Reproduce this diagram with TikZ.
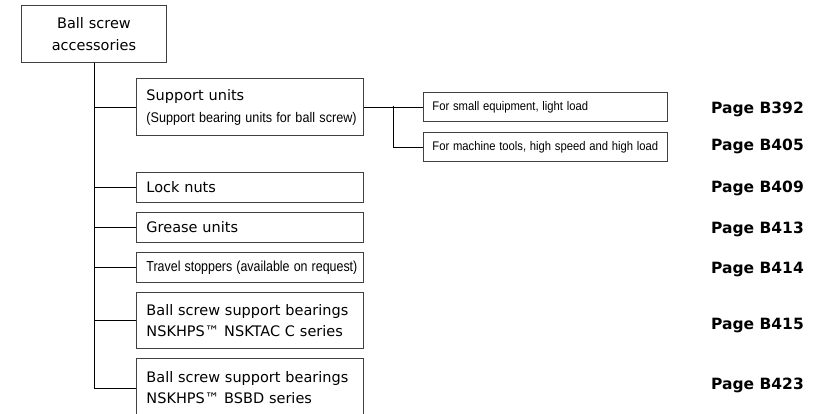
\documentclass[tikz,border=0pt]{standalone}
\usepackage{graphicx}
\usepackage{fontspec}
\setmainfont{DejaVu Sans}
\newfontfamily\narrowface{Liberation Sans}
\newcommand\squeeze[2]{\scalebox{#1}[1]{#2}}
\tikzset{
  box/.style={draw=black!75,line width=0.9pt,anchor=north west,align=left,
    inner xsep=10pt,inner ysep=0pt,text width=207pt,font=\fontsize{14.5}{21}\selectfont},
  subbox/.style={box,inner xsep=9pt,text width=226pt,minimum height=29pt,
    font=\narrowface\fontsize{12.5}{14}\selectfont},
  pagelabel/.style={anchor=base west,inner sep=0pt,
    font=\bfseries\fontsize{15.5}{18}\selectfont},
  link/.style={line width=0.8pt},
}
\begin{document}
\begin{tikzpicture}[x=1pt,y=-1pt]
\path[use as bounding box,fill=white] (0,0) rectangle (818,414);
\clip (0,0) rectangle (818,414);
\node[box,align=center,text width=125pt,minimum height=57pt,font=\fontsize{14.5}{22}\selectfont] (top) at (21,5) {Ball screw\\accessories};
\node[box,minimum height=57pt,font=\fontsize{14.5}{22}\selectfont] (support) at (136,78)
    {Support units\\{\narrowface\fontsize{14}{16}\selectfont\squeeze{0.9}{(Support bearing units for ball screw)}}};
\foreach \name/\y/\txt in {locknut/172/Lock nuts, grease/212/Grease units}
{
    \node[box,minimum height=30pt] (\name) at (136,\y) {\txt};
}
\node[box,minimum height=30pt,font=\narrowface\fontsize{14.5}{16}\selectfont] (stopper) at (136,252)
    {\squeeze{0.857}{Travel stoppers (available on request)}};
\node[box,minimum height=56pt] (tac) at (136,292)
    {Ball screw support bearings\\NSKHPS™ NSKTAC C series};
\node[box,minimum height=59pt] (bsbd) at (136,358)
    {Ball screw support bearings\\NSKHPS™ BSBD series};
\foreach \name in {support,locknut,grease,stopper,tac,bsbd}
{
    \draw[link] (top.south) |- (\name.west);
}
\node[subbox] (small) at (423,92) {\squeeze{0.9}{For small equipment, light load}};
\node[subbox] (machine) at (423,132) {\squeeze{0.9}{For machine tools, high speed and high load}};
\coordinate (fork) at (393,106.5);
\draw[link] (support.east)--(small.west);
\draw[link] (fork) |- (machine.west);
\foreach \yb/\pg in {114/392,150/405,193/409,233/413,273/414,329/415,389/423}
{
    \node[pagelabel] (page\pg) at (711,\yb) {Page B\pg};
}
\end{tikzpicture}
\end{document}
